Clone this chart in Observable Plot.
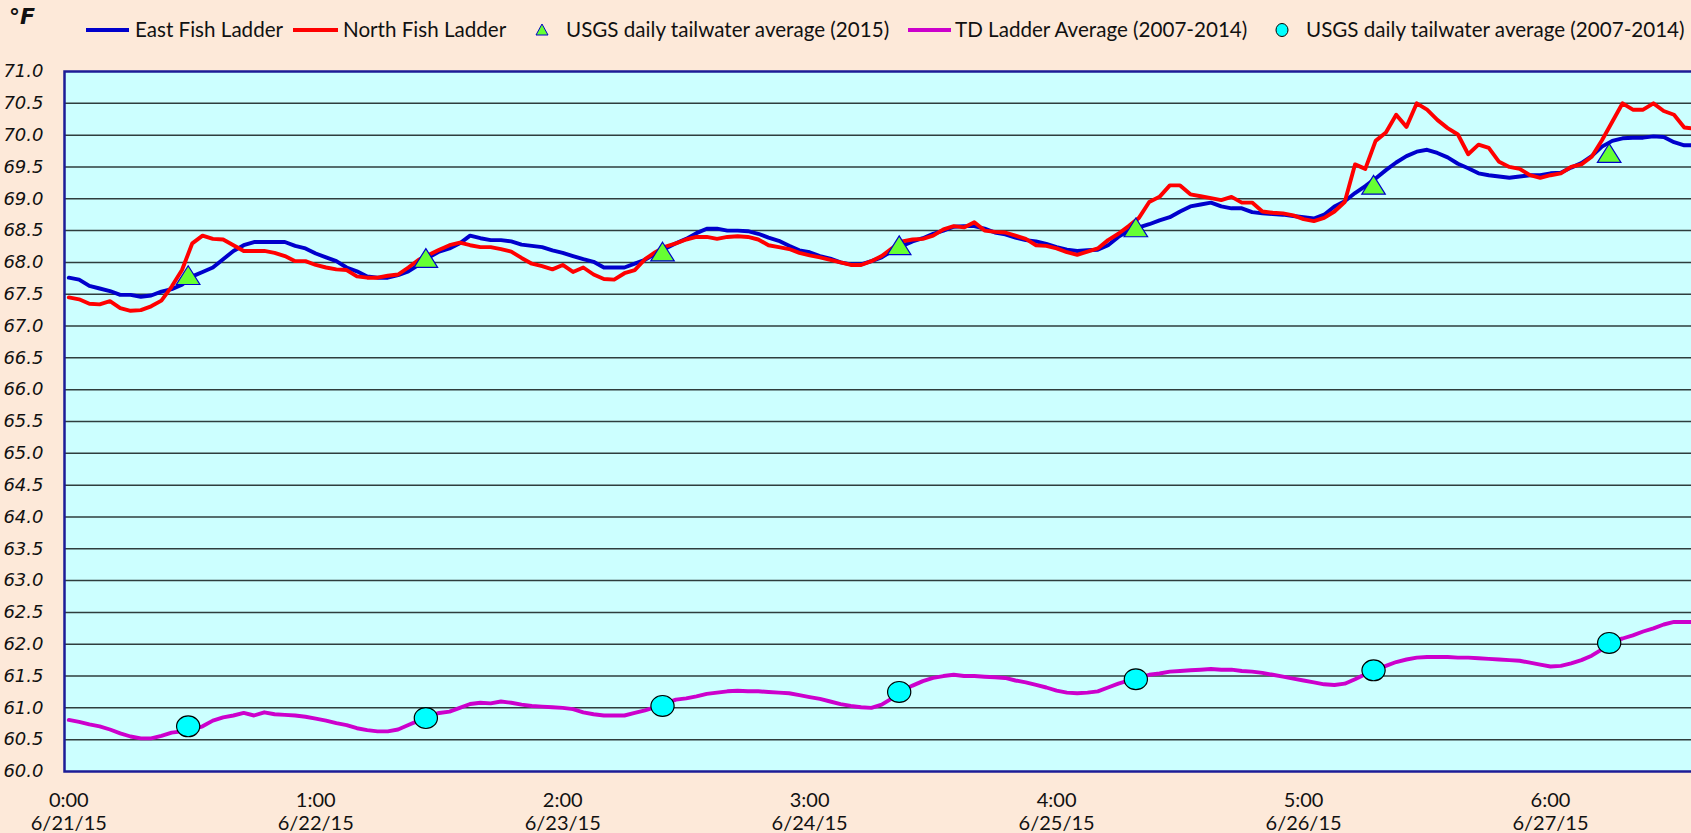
<!DOCTYPE html>
<html><head><meta charset="utf-8">
<script src="https://cdn.jsdelivr.net/npm/d3@7"></script>
<script src="https://cdn.jsdelivr.net/npm/@observablehq/plot@0.6"></script>
<style>
html,body{margin:0;padding:0;background:#fde9d9;}
#wrap{position:relative;width:1691px;height:833px;overflow:hidden;background:#fde9d9;}
#wrap svg{position:absolute;left:0;top:0;max-width:none;background:transparent;}
.lt{position:absolute;top:16px;font-family:Lato,sans-serif;font-size:20.6px;line-height:27px;color:#111;white-space:nowrap;}
.ls{position:absolute;top:28px;height:4px;}
.unit{position:absolute;left:9px;top:4px;font-family:"DejaVu Sans",sans-serif;font-weight:bold;font-style:italic;font-size:22px;color:#111;}
</style></head>
<body><div id="wrap"></div>
<script>
// ---- data (hourly readings from 6/21/15 0:00) ----
const eastFishLadder = [67.76,67.73,67.63,67.59,67.55,67.49,67.49,67.46,67.48,67.54,67.58,67.65,67.78,67.85,67.92,68.05,68.18,68.27,68.32,68.32,68.32,68.32,68.26,68.22,68.14,68.08,68.02,67.92,67.86,67.78,67.76,67.76,67.8,67.86,67.96,68.08,68.17,68.22,68.3,68.42,68.38,68.35,68.35,68.33,68.28,68.26,68.24,68.19,68.15,68.1,68.05,68.01,67.92,67.92,67.92,67.98,68.04,68.14,68.22,68.3,68.37,68.46,68.53,68.53,68.5,68.5,68.49,68.45,68.39,68.34,68.26,68.19,68.16,68.1,68.06,68.0,67.97,67.97,68.02,68.08,68.18,68.26,68.33,68.38,68.45,68.5,68.56,68.57,68.57,68.53,68.47,68.44,68.39,68.35,68.33,68.29,68.24,68.2,68.18,68.19,68.2,68.27,68.4,68.5,68.55,68.6,68.66,68.71,68.8,68.88,68.91,68.94,68.88,68.85,68.85,68.79,68.77,68.76,68.75,68.73,68.71,68.69,68.75,68.88,68.96,69.09,69.2,69.32,69.45,69.57,69.67,69.74,69.77,69.72,69.65,69.55,69.48,69.4,69.37,69.35,69.33,69.35,69.37,69.37,69.4,69.41,69.49,69.56,69.67,69.82,69.91,69.95,69.96,69.96,69.98,69.97,69.89,69.84,69.84];
const northFishLadder = [67.45,67.42,67.35,67.34,67.39,67.28,67.24,67.25,67.31,67.4,67.62,67.88,68.3,68.42,68.37,68.36,68.27,68.18,68.18,68.18,68.15,68.1,68.02,68.02,67.96,67.92,67.89,67.88,67.78,67.76,67.76,67.79,67.81,67.92,68.04,68.12,68.2,68.27,68.31,68.27,68.24,68.24,68.21,68.17,68.07,67.98,67.94,67.89,67.96,67.85,67.92,67.81,67.74,67.73,67.83,67.88,68.05,68.16,68.25,68.3,68.36,68.4,68.4,68.37,68.4,68.41,68.4,68.36,68.27,68.24,68.21,68.15,68.11,68.08,68.04,68.0,67.96,67.96,68.02,68.1,68.22,68.33,68.36,68.37,68.42,68.52,68.57,68.55,68.63,68.5,68.48,68.47,68.42,68.37,68.27,68.26,68.22,68.16,68.12,68.17,68.22,68.35,68.45,68.57,68.7,68.95,69.03,69.21,69.21,69.07,69.04,69.01,68.98,69.03,68.94,68.94,68.8,68.78,68.77,68.74,68.68,68.65,68.7,68.8,68.95,69.54,69.47,69.91,70.04,70.32,70.13,70.5,70.4,70.24,70.11,70.01,69.7,69.85,69.8,69.58,69.5,69.47,69.37,69.33,69.37,69.4,69.5,69.54,69.66,69.92,70.21,70.5,70.4,70.4,70.5,70.38,70.32,70.12,70.1];
const tdLadderAverage = [60.81,60.78,60.74,60.71,60.66,60.6,60.55,60.52,60.52,60.56,60.61,60.63,60.66,60.71,60.8,60.85,60.88,60.92,60.88,60.93,60.9,60.89,60.88,60.86,60.83,60.8,60.76,60.73,60.68,60.65,60.63,60.63,60.66,60.73,60.8,60.87,60.92,60.94,61.0,61.06,61.08,61.07,61.1,61.08,61.05,61.03,61.02,61.01,61.0,60.98,60.93,60.9,60.88,60.88,60.88,60.92,60.96,61.01,61.07,61.13,61.15,61.18,61.22,61.24,61.26,61.27,61.26,61.26,61.25,61.24,61.23,61.2,61.17,61.14,61.1,61.06,61.03,61.01,61.0,61.05,61.15,61.27,61.35,61.42,61.47,61.5,61.52,61.5,61.5,61.49,61.48,61.47,61.43,61.4,61.36,61.32,61.27,61.24,61.23,61.24,61.26,61.32,61.38,61.43,61.48,61.52,61.54,61.57,61.58,61.59,61.6,61.61,61.6,61.6,61.58,61.57,61.55,61.52,61.49,61.46,61.43,61.4,61.37,61.36,61.38,61.45,61.53,61.6,61.66,61.72,61.76,61.79,61.8,61.8,61.8,61.79,61.79,61.78,61.77,61.76,61.75,61.74,61.71,61.68,61.65,61.66,61.7,61.75,61.82,61.92,62.05,62.09,62.14,62.2,62.25,62.31,62.35,62.35,62.35];
const usgsHours = [11.6,34.7,57.7,80.7,103.7,126.8,149.7];
const usgs2015 = [67.8,68.07,68.17,68.27,68.55,69.22,69.72];
const usgs2007_2014 = [60.71,60.84,61.03,61.25,61.45,61.59,62.02];
const timeLabels = ["0:00","1:00","2:00","3:00","4:00","5:00","6:00"];
const dateLabels = ["6/21/15","6/22/15","6/23/15","6/24/15","6/25/15","6/26/15","6/27/15"];
const yTicks = [60,60.5,61,61.5,62,62.5,63,63.5,64,64.5,65,65.5,66,66.5,67,67.5,68,68.5,69,69.5,70,70.5,71];
const lastHour = 157.7;

const start = Date.UTC(2015,5,21);
const t = h => new Date(start + h*3600e3);
const series = arr => arr.map((v,i) => ({date: t(i), value: v}));
const east = series(eastFishLadder), north = series(northFishLadder), td = series(tdLadderAverage);
const tri = usgsHours.map((h,i) => ({date: t(h), value: usgs2015[i]}));
const circ = usgsHours.map((h,i) => ({date: t(h), value: usgs2007_2014[i]}));
const dayTicks = dateLabels.map((_,i) => t(24*i));
const grid = yTicks.filter(v => v > 60 && v < 71);

// marker shapes (Excel-like): triangle centred on its box, slightly flattened circle
const triangleMark = {draw(ctx, size) {
  const r = Math.sqrt(size / Math.PI);
  ctx.moveTo(0, -0.9*r); ctx.lineTo(1.13*r, 0.9*r); ctx.lineTo(-1.13*r, 0.9*r); ctx.closePath();
}};
const ovalMark = {draw(ctx, size) {
  const r = Math.sqrt(size / Math.PI), rx = r, ry = 0.9*r, k = 0.5523;
  ctx.moveTo(rx, 0);
  ctx.bezierCurveTo(rx, ry*k, rx*k, ry, 0, ry);
  ctx.bezierCurveTo(-rx*k, ry, -rx, ry*k, -rx, 0);
  ctx.bezierCurveTo(-rx, -ry*k, -rx*k, -ry, 0, -ry);
  ctx.bezierCurveTo(rx*k, -ry, rx, -ry*k, rx, 0);
  ctx.closePath();
}};

const chart = Plot.plot({
  width: 1691, height: 833,
  marginTop: 71, marginBottom: 62, marginLeft: 64, marginRight: 0,
  style: {background: "transparent", overflow: "visible"},
  x: {type: "utc", domain: [t(0), t(lastHour)], range: [68.3, 1691]},
  y: {domain: [60, 71]},
  marks: [
    Plot.frame({fill: "#ccffff", insetRight: -10}),
    Plot.ruleY(grid, {stroke: "#2e3d3d", strokeWidth: 1.5}),
    Plot.frame({stroke: "#1c1c96", strokeWidth: 2.5, insetRight: -10}),
    Plot.line(east, {x: "date", y: "value", stroke: "#0000cc", strokeWidth: 3.9}),
    Plot.line(north, {x: "date", y: "value", stroke: "#ff0000", strokeWidth: 3.9}),
    Plot.dot(tri, {x: "date", y: "value", symbol: triangleMark, r: 10.4, fill: "#66ff33", stroke: "#0000cc", strokeWidth: 1.2}),
    Plot.line(td, {x: "date", y: "value", stroke: "#cc00cc", strokeWidth: 3.9}),
    Plot.dot(circ, {x: "date", y: "value", symbol: ovalMark, r: 11.6, fill: "#00ffff", stroke: "#000", strokeWidth: 1.2}),
    Plot.axisY({ticks: yTicks, tickSize: 0, tickPadding: 21, tickFormat: d => d.toFixed(1), label: null,
      fontSize: 18, fontFamily: "DejaVu Sans", fontStyle: "italic", fill: "#111"}),
    Plot.axisX({ticks: dayTicks, tickSize: 0, tickPadding: 19, label: null,
      tickFormat: d => { const i = Math.round((d - start)/864e5); return timeLabels[i] + "\n" + dateLabels[i]; },
      fontSize: 20, fontFamily: "Lato", lineHeight: 1.15, fill: "#111"})
  ]
});

const wrap = document.getElementById("wrap");
wrap.appendChild(chart);

const legend = [
  {type: "line", color: "#0000cc", x1: 86, x2: 129, tx: 135, label: "East Fish Ladder"},
  {type: "line", color: "#ff0000", x1: 293, x2: 338, tx: 343, label: "North Fish Ladder"},
  {type: "tri", cx: 542, tx: 566, label: "USGS daily tailwater average (2015)"},
  {type: "line", color: "#cc00cc", x1: 908, x2: 951, tx: 955, label: "TD Ladder Average (2007-2014)"},
  {type: "circ", cx: 1282, tx: 1306, label: "USGS daily tailwater average (2007-2014)"}
];
for (const it of legend) {
  if (it.type === "line") {
    const d = document.createElement("div");
    d.className = "ls";
    d.style.left = it.x1 + "px"; d.style.width = (it.x2 - it.x1) + "px"; d.style.background = it.color;
    wrap.appendChild(d);
  } else {
    const ns = "http://www.w3.org/2000/svg";
    const s = document.createElementNS(ns, "svg");
    s.setAttribute("width", 20); s.setAttribute("height", 20);
    s.style.position = "absolute"; s.style.left = (it.cx - 10) + "px"; s.style.top = "20px";
    if (it.type === "tri") {
      const p = document.createElementNS(ns, "path");
      p.setAttribute("d", "M10,4 L16,15 L4,15 Z");
      p.setAttribute("fill", "#66ff33"); p.setAttribute("stroke", "#0000cc"); p.setAttribute("stroke-width", "1");
      s.appendChild(p);
    } else {
      const c = document.createElementNS(ns, "ellipse");
      c.setAttribute("cx", 10); c.setAttribute("cy", 10); c.setAttribute("rx", 6); c.setAttribute("ry", 6.5);
      c.setAttribute("fill", "#00ffff"); c.setAttribute("stroke", "#000"); c.setAttribute("stroke-width", "1");
      s.appendChild(c);
    }
    wrap.appendChild(s);
  }
  const tx = document.createElement("div");
  tx.className = "lt"; tx.style.left = it.tx + "px"; tx.textContent = it.label;
  wrap.appendChild(tx);
}
const u = document.createElement("div");
u.className = "unit"; u.textContent = "°F";
wrap.appendChild(u);
</script>
</body></html>
